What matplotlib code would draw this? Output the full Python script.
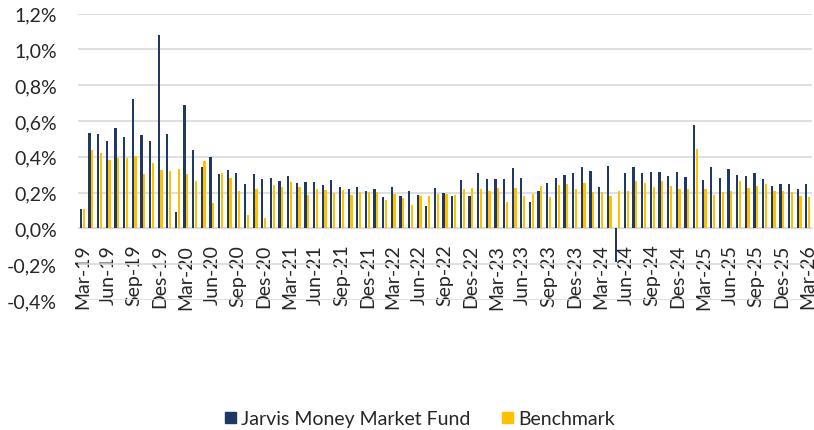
import matplotlib
matplotlib.use("Agg")
import matplotlib.pyplot as plt
import numpy as np
from matplotlib.patches import Patch
from matplotlib.ticker import FuncFormatter

plt.rcParams['font.family'] = ['Lato', 'DejaVu Sans']

# monthly returns in %, Mar-19 .. Mar-26
fund = [0.108, 0.533, 0.529, 0.490, 0.564, 0.512, 0.722, 0.521, 0.486, 1.080,
        0.525, 0.093, 0.689, 0.436, 0.346, 0.398, 0.304, 0.326, 0.311, 0.246,
        0.305, 0.277, 0.280, 0.265, 0.295, 0.252, 0.258, 0.260, 0.243, 0.271,
        0.230, 0.222, 0.232, 0.211, 0.222, 0.176, 0.230, 0.183, 0.207, 0.185,
        0.127, 0.226, 0.196, 0.183, 0.269, 0.181, 0.307, 0.277, 0.277, 0.277,
        0.335, 0.280, 0.148, 0.207, 0.254, 0.280, 0.301, 0.307, 0.346, 0.321,
        0.230, 0.351, -0.190, 0.311, 0.341, 0.307, 0.318, 0.317, 0.294, 0.317,
        0.287, 0.577, 0.272, 0.346, 0.281, 0.331, 0.296, 0.291, 0.311, 0.276,
        0.235, 0.248, 0.251, 0.223, 0.246]
bench = [0.108, 0.438, 0.423, 0.382, 0.391, 0.393, 0.404, 0.305, 0.363, 0.324,
         0.322, 0.333, 0.302, 0.264, 0.376, 0.142, 0.309, 0.283, 0.209, 0.074,
         0.219, 0.058, 0.243, 0.230, 0.258, 0.234, 0.187, 0.219, 0.213, 0.200,
         0.215, 0.187, 0.206, 0.206, 0.202, 0.159, 0.194, 0.168, 0.129, 0.181,
         0.181, 0.191, 0.191, 0.187, 0.219, 0.226, 0.219, 0.209, 0.224, 0.148,
         0.224, 0.181, 0.193, 0.235, 0.174, 0.243, 0.249, 0.221, 0.252, 0.206,
         0.206, 0.181, 0.207, 0.207, 0.264, 0.255, 0.233, 0.264, 0.235, 0.223,
         0.220, 0.445, 0.220, 0.186, 0.201, 0.207, 0.264, 0.225, 0.235, 0.246,
         0.210, 0.209, 0.205, 0.183, 0.175]
tick_labels = ['Mar-19', 'Jun-19', 'Sep-19', 'Des-19', 'Mar-20', 'Jun-20', 'Sep-20', 'Des-20',
               'Mar-21', 'Jun-21', 'Sep-21', 'Des-21', 'Mar-22', 'Jun-22', 'Sep-22', 'Des-22',
               'Mar-23', 'Jun-23', 'Sep-23', 'Des-23', 'Mar-24', 'Jun-24', 'Sep-24', 'Des-24',
               'Mar-25', 'Jun-25', 'Sep-25', 'Des-25', 'Mar-26']

navy = '#203864'
gold = '#FFC000'
txt = '#262626'

fig = plt.figure(figsize=(8.14, 4.31), dpi=100)
ax = fig.add_axes([78 / 814, 1 - 301 / 431, (812 - 78) / 814, (301 - 14.7) / 431])

x = np.arange(len(fund))
ax.bar(x - 0.16, fund, width=0.26, color=navy, zorder=3)
ax.bar(x + 0.16, bench, width=0.26, color=gold, zorder=3)

ax.set_xlim(-0.5, len(fund) - 0.5)
ax.set_ylim(-0.4, 1.2)
ax.set_yticks(np.arange(-0.4, 1.21, 0.2))
ax.yaxis.set_major_formatter(FuncFormatter(lambda v, p: f"{v:.1f}".replace('.', ',').replace('-0,0', '0,0') + '%'))
ax.set_xticks(x[::3])
ax.set_xticklabels(tick_labels)
ax.tick_params(axis='x', length=0, pad=11, labelsize=14, labelcolor=txt, labelrotation=90)
ax.tick_params(axis='y', length=0, pad=15, labelsize=14, labelcolor=txt)

ax.grid(axis='y', color='#D9D9D9', lw=1.2, zorder=0)
ax.spines['bottom'].set_position(('data', 0))
ax.spines['bottom'].set_color('#D9D9D9')
for s in ['top', 'right', 'left']:
    ax.spines[s].set_visible(False)

handles = [Patch(color=navy, label='Jarvis Money Market Fund'),
           Patch(color=gold, label='Benchmark')]
fig.legend(handles=handles, loc='center', bbox_to_anchor=(420 / 814, 1 - 420 / 431),
           ncol=2, frameon=False, fontsize=14, handlelength=0.55, handleheight=0.55,
           handletextpad=0.3, columnspacing=1.6, labelcolor=txt)

fig.savefig('out.png', dpi=100)
